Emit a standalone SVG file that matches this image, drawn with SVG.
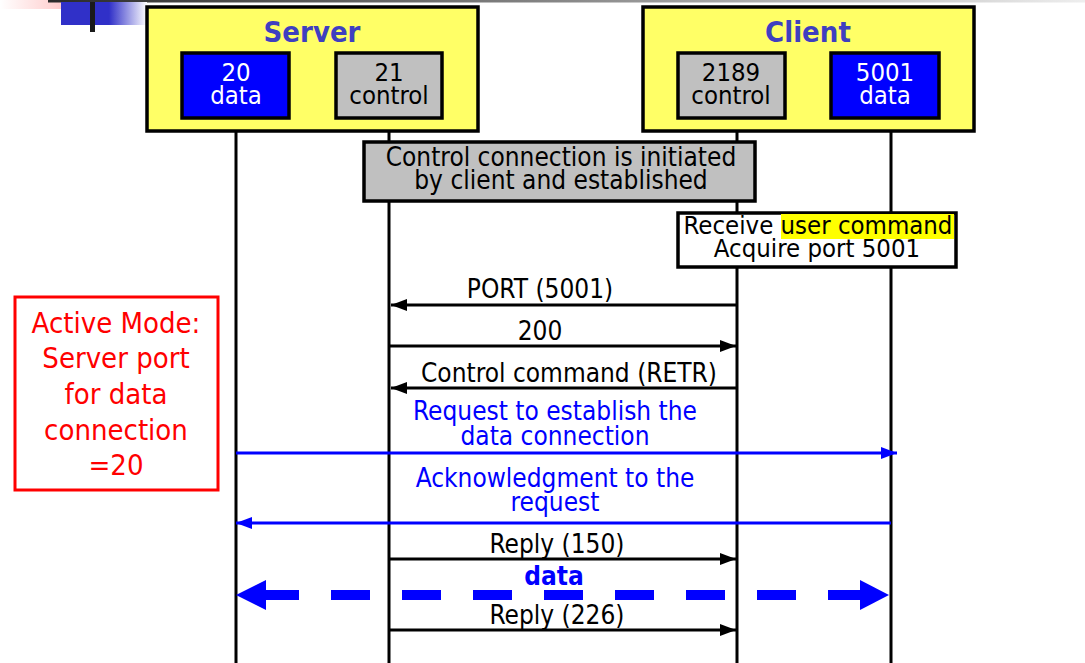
<svg xmlns="http://www.w3.org/2000/svg" width="1085" height="663" viewBox="0 0 1085 663">
<defs>
<linearGradient id="pinkG" x1="0" x2="1" y1="0" y2="0"><stop offset="0" stop-color="#ffffff"/><stop offset="1" stop-color="#ffbcbc"/></linearGradient>
<linearGradient id="blueG" x1="0" x2="1" y1="0" y2="0"><stop offset="0" stop-color="#3030c8"/><stop offset="1" stop-color="#ffffff"/></linearGradient>
<linearGradient id="grayG" x1="0" x2="1" y1="0" y2="0"><stop offset="0" stop-color="#2a2a2a"/><stop offset="0.5" stop-color="#888888"/><stop offset="1" stop-color="#eeeeee"/></linearGradient>
<marker id="ah" markerUnits="userSpaceOnUse" markerWidth="16" markerHeight="12" refX="16" refY="6" orient="auto"><path d="M0,0 L16,6 L0,12 Z" fill="#000"/></marker>
<marker id="ahb" markerUnits="userSpaceOnUse" markerWidth="16" markerHeight="12" refX="16" refY="6" orient="auto"><path d="M0,0 L16,6 L0,12 Z" fill="#0000ff"/></marker>
</defs>
<style>
text{font-family:"DejaVu Sans Condensed","DejaVu Sans",sans-serif;text-anchor:middle}
.t{font-size:25.5px;fill:#000}
.w{font-size:25.5px;fill:#fff}
.title{font-size:29px;font-weight:bold;fill:#3f3fc0}
.lbl{font-size:26px;fill:#000}
.bl{font-size:26px;fill:#0000ff}
.red{font-size:29px;fill:#ff0000}
.box{stroke:#000;stroke-width:3.5}
.life{stroke:#000;stroke-width:3;fill:none}
.msg{stroke:#000;stroke-width:3;fill:none;marker-end:url(#ah)}
.bmsg{stroke:#0000ff;stroke-width:3;fill:none;marker-end:url(#ahb)}
</style>
<g id="decor">
<rect x="0" y="0" width="81" height="9" fill="url(#pinkG)"/>
<rect x="48" y="0" width="1037" height="2.5" fill="url(#grayG)"/>
<rect x="61" y="2" width="48" height="23" fill="#3030c8"/>
<rect x="109" y="2" width="38" height="23" fill="url(#blueG)"/>
<rect x="90" y="2" width="5" height="30" fill="#1a1a1a"/>
</g>
<g id="lifelines">
<line class="life" x1="236" y1="118" x2="236" y2="663"/>
<line class="life" x1="389" y1="118" x2="389" y2="663"/>
<line class="life" x1="737" y1="118" x2="737" y2="663"/>
<line class="life" x1="891" y1="118" x2="891" y2="663"/>
</g>
<g id="server">
<rect class="box" x="147" y="7" width="331" height="124" fill="#ffff66"/>
<text class="title" x="312" y="42">Server</text>
</g>
<g id="port20">
<rect class="box" x="182" y="53" width="107" height="65" fill="#0000ff"/>
<text class="w" x="236" y="81">20</text>
<text class="w" x="236" y="104">data</text>
</g>
<g id="port21">
<rect class="box" x="336" y="53" width="106" height="65" fill="#c0c0c0"/>
<text class="t" x="389" y="81">21</text>
<text class="t" x="389" y="104">control</text>
</g>
<g id="client">
<rect class="box" x="643" y="7" width="331" height="124" fill="#ffff66"/>
<text class="title" x="808" y="42">Client</text>
</g>
<g id="port2189">
<rect class="box" x="678" y="53" width="107" height="65" fill="#c0c0c0"/>
<text class="t" x="731" y="81">2189</text>
<text class="t" x="731" y="104">control</text>
</g>
<g id="port5001">
<rect class="box" x="831" y="53" width="108" height="65" fill="#0000ff"/>
<text class="w" x="885" y="81">5001</text>
<text class="w" x="885" y="104">data</text>
</g>
<g id="ctrlconn">
<rect class="box" x="364" y="142" width="391" height="59" fill="#c0c0c0"/>
<text class="lbl" x="561" y="166">Control connection is initiated</text>
<text class="lbl" x="561" y="189">by client and established</text>
</g>
<g id="usercmd">
<rect class="box" x="678" y="213" width="278" height="54" fill="#ffffff"/>
<rect x="781" y="214" width="173" height="25" fill="#ffff00"/>
<text class="t" x="818" y="234">Receive user command</text>
<text class="t" x="817" y="257">Acquire port 5001</text>
</g>
<g id="note">
<rect x="15" y="297" width="203" height="193" fill="#fff" stroke="#ff0000" stroke-width="3"/>
<text class="red" x="116" y="333">Active Mode:</text>
<text class="red" x="116" y="368">Server port</text>
<text class="red" x="116" y="404">for data</text>
<text class="red" x="116" y="440">connection</text>
<text class="red" x="116" y="475">=20</text>
</g>
<g id="connectors">
<line class="msg" x1="737" y1="305" x2="391" y2="305"/>
<text class="lbl" x="540" y="298">PORT (5001)</text>
<line class="msg" x1="389" y1="346" x2="736" y2="346"/>
<text class="lbl" x="540" y="340">200</text>
<line class="msg" x1="737" y1="388" x2="391" y2="388"/>
<text class="lbl" x="569" y="382">Control command (RETR)</text>
<line class="bmsg" x1="236" y1="453" x2="897" y2="453"/>
<text class="bl" x="555" y="420">Request to establish the</text>
<text class="bl" x="555" y="445">data connection</text>
<line class="bmsg" x1="891" y1="523" x2="236" y2="523"/>
<text class="bl" x="555" y="487">Acknowledgment to the</text>
<text class="bl" x="555" y="511">request</text>
<line class="msg" x1="389" y1="559" x2="736" y2="559"/>
<text class="lbl" x="557" y="553">Reply (150)</text>
<text x="554" y="585" style="font-size:26px;font-weight:bold;fill:#0000ff">data</text>
<line x1="260" y1="595" x2="868" y2="595" stroke="#0000ff" stroke-width="10" stroke-dasharray="39 32"/>
<polygon points="236,595 266,580 266,610" fill="#0000ff"/>
<polygon points="889,595 860,580 860,610" fill="#0000ff"/>
<line class="msg" x1="389" y1="630" x2="736" y2="630"/>
<text class="lbl" x="557" y="624">Reply (226)</text>
</g>
</svg>
